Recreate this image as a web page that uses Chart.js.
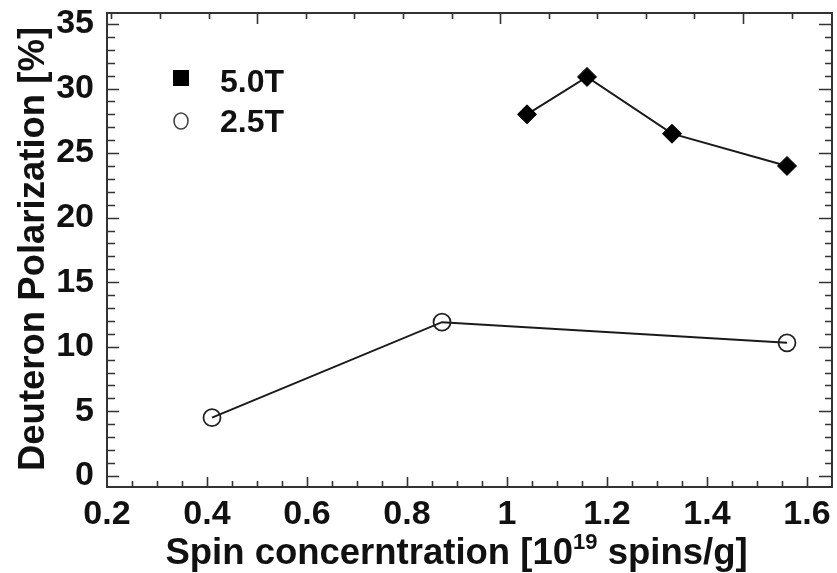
<!DOCTYPE html>
<html><head><meta charset="utf-8">
<script src="https://cdn.jsdelivr.net/npm/chart.js@4/dist/chart.umd.min.js"></script>
<style>html,body{margin:0;padding:0;background:#fff;}#wrap{width:837px;height:573px;position:relative}</style>
</head><body><div id="wrap"><canvas id="c" width="837" height="573"></canvas></div>
<script>
// ---- data ----
const seriesNames = ['5.0T', '2.5T'];
const x50 = [1.04, 1.16, 1.33, 1.56];
const y50 = [28.0, 30.9, 26.5, 24.0];
const x25 = [0.41, 0.87, 1.56];
const y25 = [4.5, 11.9, 10.3];
const xTickValues = [0.2, 0.4, 0.6, 0.8, 1.0, 1.2, 1.4, 1.6];
const xTickLabels = ['0.2', '0.4', '0.6', '0.8', '1', '1.2', '1.4', '1.6'];
const yTickValues = [0, 5, 10, 15, 20, 25, 30, 35];
const yTickLabels = ['0', '5', '10', '15', '20', '25', '30', '35'];
const xTitleParts = ['Spin concerntration [10', '19', ' spins/g]'];
const yTitle = 'Deuteron Polarization [%]';

const FONT = '"Liberation Sans", Arial, sans-serif';
const INK = '#111';

const frameTicks = {
  id: 'frameTicks',
  afterDraw(chart) {
    const ctx = chart.ctx, a = chart.chartArea;
    const xs = chart.scales.x, ys = chart.scales.y, xt = chart.scales.xTop;
    ctx.save();
    ctx.strokeStyle = '#333';
    ctx.lineWidth = 2;
    ctx.strokeRect(a.left, a.top, a.right - a.left, a.bottom - a.top);
    ctx.lineWidth = 1.6;
    ctx.beginPath();
    // bottom ticks: major every 0.2, minor every 0.05
    for (let k = 4; k <= 33; k++) {
      const v = k * 0.05;
      const px = Math.round(xs.getPixelForValue(v)) + 0.5;
      if (px < a.left + 1 || px > a.right - 1) continue;
      const major = (k % 4 === 0);
      ctx.moveTo(px, a.bottom); ctx.lineTo(px, a.bottom - (major ? 10 : 6));
    }
    // top ticks (separate scale)
    for (let v = Math.ceil(xt.min); v <= xt.max; v++) {
      const px = Math.round(xt.getPixelForValue(v)) + 0.5;
      if (px < a.left + 1 || px > a.right - 1) continue;
      const major = (v % 5 === 0);
      ctx.moveTo(px, a.top); ctx.lineTo(px, a.top + (major ? 11 : 6));
    }
    // left/right ticks: major every 5, minor every 1
    for (let v = 0; v <= 35; v++) {
      const py = Math.round(ys.getPixelForValue(v)) + 0.5;
      const major = (v % 5 === 0);
      ctx.moveTo(a.left, py); ctx.lineTo(a.left + (major ? 12 : 8), py);
      ctx.moveTo(a.right, py); ctx.lineTo(a.right - (major ? 13 : 7), py);
    }
    ctx.stroke();

    // legend
    const lx = a.left + 74;
    ctx.fillStyle = '#000';
    ctx.fillRect(lx - 8, a.top + 65 - 8, 16, 16);
    ctx.strokeStyle = '#444';
    ctx.lineWidth = 1.6;
    ctx.beginPath();
    ctx.ellipse(lx, a.top + 108, 7, 8, 0, 0, Math.PI * 2);
    ctx.stroke();
    ctx.fillStyle = INK;
    ctx.font = 'bold 32px ' + FONT;
    ctx.textBaseline = 'alphabetic';
    ctx.textAlign = 'left';
    ctx.fillText(seriesNames[0], a.left + 113, a.top + 79);
    ctx.fillText(seriesNames[1], a.left + 113, a.top + 119);

    // x title with superscript
    const big = 'bold 36.5px ' + FONT, small = 'bold 22px ' + FONT;
    ctx.font = big; const w1 = ctx.measureText(xTitleParts[0]).width;
    const w3 = ctx.measureText(xTitleParts[2]).width;
    ctx.font = small; const w2 = ctx.measureText(xTitleParts[1]).width;
    const total = w1 + w2 + w3;
    let sx = (a.left + a.right) / 2 - 13 - total / 2;
    const base = 564;
    ctx.font = big; ctx.fillText(xTitleParts[0], sx, base); sx += w1;
    ctx.font = small; ctx.fillText(xTitleParts[1], sx, base - 15); sx += w2;
    ctx.font = big; ctx.fillText(xTitleParts[2], sx, base);

    // y title
    ctx.save();
    ctx.translate(44, (a.top + a.bottom) / 2 - 1);
    ctx.rotate(-Math.PI / 2);
    ctx.textAlign = 'center';
    ctx.font = 'bold 36.5px ' + FONT;
    ctx.fillText(yTitle, 0, 0);
    ctx.restore();
    ctx.restore();
  }
};

new Chart(document.getElementById('c'), {
  type: 'scatter',
  data: {
    datasets: [
      {
        label: seriesNames[0],
        data: x50.map((x, i) => ({ x, y: y50[i] })),
        showLine: true,
        borderColor: '#1a1a1a',
        borderWidth: 2,
        pointStyle: 'rectRot',
        pointRadius: 9.5,
        pointBackgroundColor: '#000',
        pointBorderColor: '#000',
        pointBorderWidth: 1
      },
      {
        label: seriesNames[1],
        data: x25.map((x, i) => ({ x, y: y25[i] })),
        showLine: true,
        borderColor: '#1a1a1a',
        borderWidth: 2,
        pointStyle: 'circle',
        pointRadius: 8.5,
        pointBackgroundColor: 'rgba(0,0,0,0)',
        pointBorderColor: '#222',
        pointBorderWidth: 1.8
      }
    ]
  },
  options: {
    responsive: false,
    animation: false,
    events: [],
    layout: { autoPadding: false, padding: { top: 13, right: 5, left: 0, bottom: 0 } },
    plugins: { legend: { display: false }, tooltip: { enabled: false } },
    scales: {
      x: {
        type: 'linear', position: 'bottom', min: 0.2, max: 1.65,
        grid: { display: false, drawTicks: false },
        border: { display: false },
        afterBuildTicks: s => { s.ticks = xTickValues.map(v => ({ value: v })); },
        afterFit: s => { s.height = 86; s.paddingLeft = 0; s.paddingRight = 0; },
        ticks: {
          autoSkip: false, maxRotation: 0, padding: 11, color: INK,
          font: { family: FONT, size: 34, weight: 'bold', lineHeight: 1 },
          callback: (v, i) => xTickLabels[i]
        }
      },
      xTop: {
        type: 'linear', position: 'top', min: 11.91, max: 26.83, display: false
      },
      y: {
        type: 'linear', position: 'left', min: -0.87, max: 35.85,
        grid: { display: false, drawTicks: false },
        border: { display: false },
        afterBuildTicks: s => { s.ticks = yTickValues.map(v => ({ value: v })); },
        afterFit: s => { s.width = 107; s.paddingTop = 0; s.paddingBottom = 0; },
        ticks: {
          autoSkip: false, padding: 13, color: INK,
          font: { family: FONT, size: 34, weight: 'bold', lineHeight: 1 },
          callback: (v, i) => yTickLabels[i]
        }
      }
    }
  },
  plugins: [frameTicks]
});
</script>
</body></html>
